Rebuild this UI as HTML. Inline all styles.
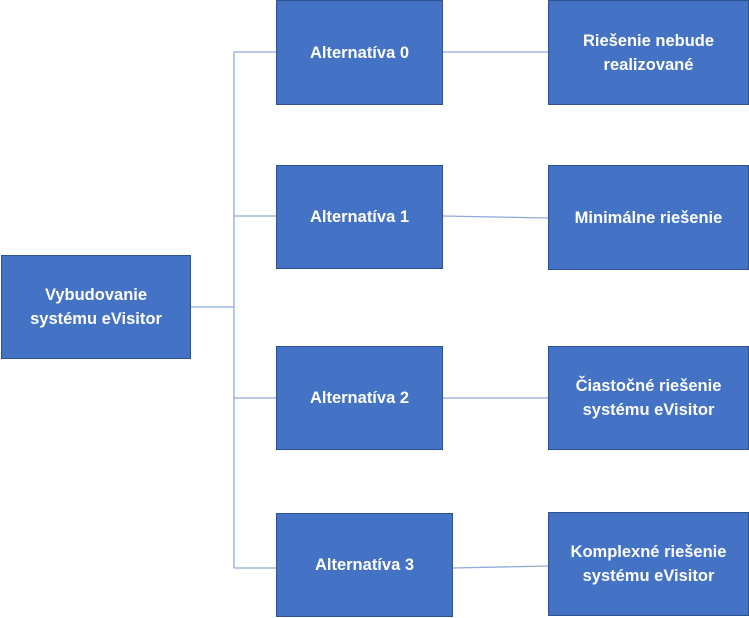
<!DOCTYPE html>
<html><head><meta charset="utf-8"><style>
body{margin:0;width:749px;height:618px;background:#fff;position:relative;overflow:hidden;font-family:"Liberation Sans",sans-serif}
.b{position:absolute;background:#4472c4;border:1.5px solid #2f528f;box-sizing:border-box;color:#fff;font-weight:bold;font-size:16.5px;line-height:24px;display:flex;align-items:center;justify-content:center;text-align:center}
svg{position:absolute;left:0;top:0}
</style></head><body>
<svg width="749" height="618"><g stroke="#8eaadb" stroke-width="1.3" fill="none">
<line x1="190" y1="307" x2="234" y2="307"/>
<line x1="234" y1="52" x2="234" y2="568"/>
<line x1="234" y1="52" x2="276" y2="52"/>
<line x1="234" y1="216" x2="276" y2="216"/>
<line x1="234" y1="398" x2="276" y2="398"/>
<line x1="234" y1="568" x2="276" y2="568"/>
<line x1="443" y1="52" x2="548" y2="52"/>
<line x1="443" y1="216" x2="548" y2="218"/>
<line x1="443" y1="398" x2="548" y2="398"/>
<line x1="453" y1="568" x2="548" y2="566"/>
</g></svg>
<div class="b" style="left:1px;top:255px;width:190px;height:104px">Vybudovanie<br>systému eVisitor</div>
<div class="b" style="left:276px;top:0;width:167px;height:105px">Alternatíva 0</div>
<div class="b" style="left:276px;top:165px;width:167px;height:104px">Alternatíva 1</div>
<div class="b" style="left:276px;top:346px;width:167px;height:104px">Alternatíva 2</div>
<div class="b" style="left:276px;top:513px;width:177px;height:104px">Alternatíva 3</div>
<div class="b" style="left:548px;top:0;width:201px;height:105px">Riešenie nebude<br>realizované</div>
<div class="b" style="left:548px;top:165px;width:201px;height:105px">Minimálne riešenie</div>
<div class="b" style="left:548px;top:346px;width:201px;height:104px">Čiastočné riešenie<br>systému eVisitor</div>
<div class="b" style="left:548px;top:512px;width:201px;height:104px">Komplexné riešenie<br>systému eVisitor</div>
</body></html>
